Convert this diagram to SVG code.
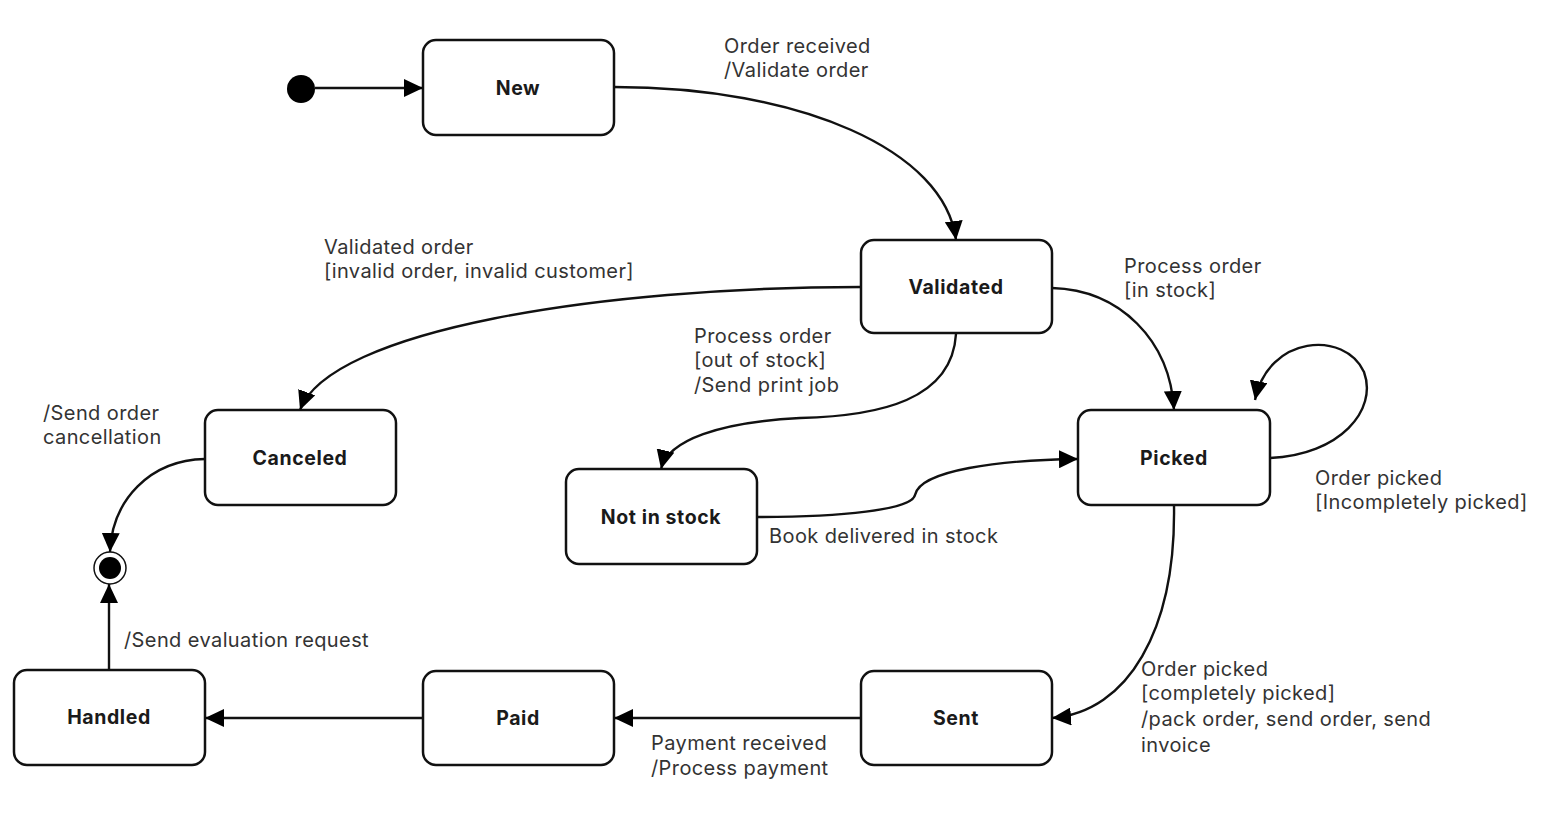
<svg xmlns="http://www.w3.org/2000/svg" width="1544" height="822" viewBox="0 0 1544 822">
<style>
.node rect{fill:#fff;stroke:#111;stroke-width:2.5}
.nl{font-family:Inter,"Liberation Sans",sans-serif;font-weight:700;font-size:19.5px;letter-spacing:0.6px;fill:#1a1a1a;text-anchor:middle}
.lb{font-family:Inter,"Liberation Sans",sans-serif;font-size:20px;letter-spacing:0.4px;fill:#333}
.edges path{fill:none;stroke:#111;stroke-width:2.4;marker-end:url(#ah)}
</style>
<defs>
<marker id="ah" markerUnits="userSpaceOnUse" markerWidth="21" markerHeight="18" refX="19" refY="9" orient="auto">
<path d="M0,0 L19,9 L0,18 Z" fill="#000"/>
</marker>
</defs>
<rect width="1544" height="822" fill="#fff"/>
<g id="initial"><circle cx="301" cy="89" r="14" fill="#000"/></g>
<g id="final"><circle cx="110" cy="568" r="16" fill="#fff" stroke="#111" stroke-width="1.5"/><circle cx="110" cy="568" r="11" fill="#000"/></g>
<g id="New" class="node"><rect x="423" y="40" width="191" height="95" rx="13"/><text class="nl" x="518" y="95">New</text></g>
<g id="Validated" class="node"><rect x="861" y="240" width="191" height="93" rx="13"/><text class="nl" x="956" y="294">Validated</text></g>
<g id="Canceled" class="node"><rect x="205" y="410" width="191" height="95" rx="13"/><text class="nl" x="300" y="465">Canceled</text></g>
<g id="Picked" class="node"><rect x="1078" y="410" width="192" height="95" rx="13"/><text class="nl" x="1174" y="465">Picked</text></g>
<g id="NotInStock" class="node"><rect x="566" y="469" width="191" height="95" rx="13"/><text class="nl" x="661" y="524">Not in stock</text></g>
<g id="Handled" class="node"><rect x="14" y="670" width="191" height="95" rx="13"/><text class="nl" x="109" y="724">Handled</text></g>
<g id="Paid" class="node"><rect x="423" y="671" width="191" height="94" rx="13"/><text class="nl" x="518" y="725">Paid</text></g>
<g id="Sent" class="node"><rect x="861" y="671" width="191" height="94" rx="13"/><text class="nl" x="956" y="725">Sent</text></g>
<g class="edges">
<path d="M315,88 L423,88"/>
<path d="M614,87 C800,87 945,150 956,240"/>
<path d="M861,287 C600,287 330,330 300,410"/>
<path d="M956,334 C952,400 880,416 800,418 C720,422 668,440 661,469"/>
<path d="M1052,288 C1120,290 1170,340 1174,410"/>
<path d="M1270,458 C1340,455 1378,410 1364,372 C1345,330 1268,335 1255,400"/>
<path d="M757,517 C840,517 912,510 915,495 C920,470 1000,460 1078,459"/>
<path d="M205,459 C150,460 112,500 110,552"/>
<path d="M109,670 L109,584"/>
<path d="M1174,505 C1176,630 1128,712 1052,718"/>
<path d="M861,718 L614,718"/>
<path d="M423,718 L205,718"/>
</g>
<g id="labels">
<text class="lb" x="724" y="53">Order received</text>
<text class="lb" x="724" y="77">/Validate order</text>
<text class="lb" x="324" y="254">Validated order</text>
<text class="lb" x="324" y="278">[invalid order, invalid customer]</text>
<text class="lb" x="1124" y="273">Process order</text>
<text class="lb" x="1124" y="297">[in stock]</text>
<text class="lb" x="694" y="343">Process order</text>
<text class="lb" x="694" y="367">[out of stock]</text>
<text class="lb" x="694" y="392">/Send print job</text>
<text class="lb" x="43" y="420">/Send order</text>
<text class="lb" x="43" y="444">cancellation</text>
<text class="lb" x="1315" y="485">Order picked</text>
<text class="lb" x="1315" y="509">[Incompletely picked]</text>
<text class="lb" x="769" y="543">Book delivered in stock</text>
<text class="lb" x="124" y="647">/Send evaluation request</text>
<text class="lb" x="1141" y="676">Order picked</text>
<text class="lb" x="1141" y="700">[completely picked]</text>
<text class="lb" x="1141" y="726">/pack order, send order, send</text>
<text class="lb" x="1141" y="752">invoice</text>
<text class="lb" x="651" y="750">Payment received</text>
<text class="lb" x="651" y="775">/Process payment</text>
</g>
</svg>
